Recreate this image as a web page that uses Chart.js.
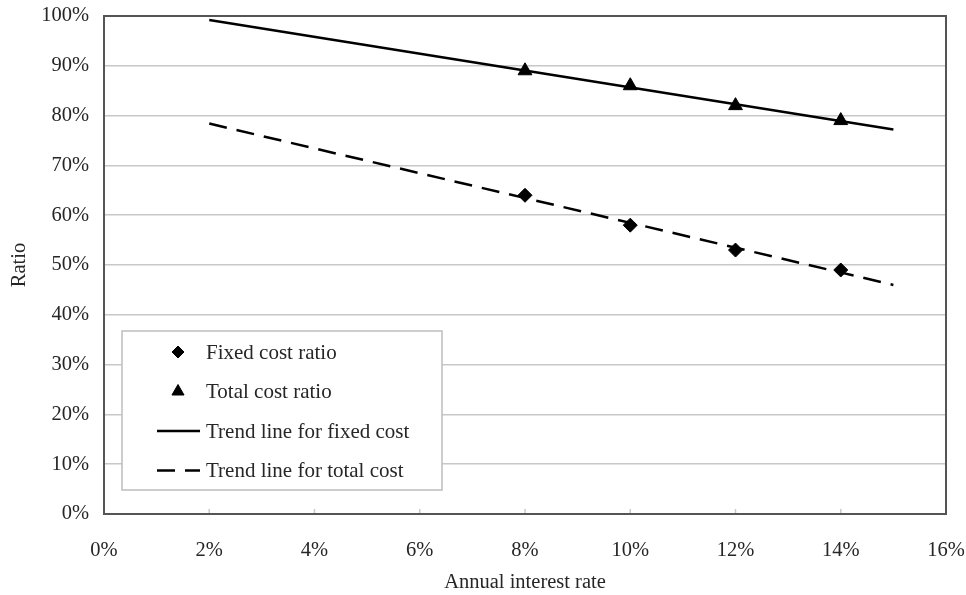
<!DOCTYPE html>
<html lang="en">
<head>
    <meta charset="UTF-8">
    <title>Ratio vs annual interest rate</title>
    <script src="https://cdn.jsdelivr.net/npm/chart.js"></script>
    <style>
        html, body { margin: 0; padding: 0; background: #fff; }
    </style>
</head>
<body>
    <canvas id="ratioChart" width="966" height="595"></canvas>

    <script>
        // values
        var rates = [8, 10, 12, 14];
        var fixedCost = [64, 58, 53, 49];
        var totalCost = [89, 86, 82, 79];

        // trend lines: start and end points as drawn
        var trendRates = [2, 15];
        var trendFixed = [99.2, 77.2];
        var trendTotal = [78.4, 46];

        var seriesLabels = ['Fixed cost ratio', 'Total cost ratio', 'Trend line for fixed cost', 'Trend line for total cost'];

        function toPoints(xs, ys) {
            return xs.map(function (x, i) { return { x: x, y: ys[i] }; });
        }

        var FONT = 'Liberation Serif, Times New Roman, serif';
        var TEXT = '#262626';

        // frame round the plot area plus the small inward x ticks
        var frame = {
            id: 'frame',
            beforeDatasetsDraw: function (chart) {
                var ctx = chart.ctx, a = chart.chartArea;
                ctx.save();
                ctx.strokeStyle = '#c8c8c8';
                ctx.lineWidth = 1.5;
                chart.scales.x.ticks.forEach(function (t) {
                    var px = chart.scales.x.getPixelForValue(t.value);
                    ctx.beginPath();
                    ctx.moveTo(px, a.bottom);
                    ctx.lineTo(px, a.bottom - 5);
                    ctx.stroke();
                });
                ctx.strokeStyle = '#555';
                ctx.lineWidth = 2;
                ctx.strokeRect(a.left, a.top, a.right - a.left, a.bottom - a.top);
                ctx.restore();
            }
        };

        // legend box drawn inside the plot, lower left
        var legendBox = {
            id: 'legendBox',
            afterDatasetsDraw: function (chart) {
                var ctx = chart.ctx, a = chart.chartArea;
                var bx = a.left + 18, by = a.bottom - 183, bw = 320, bh = 159;
                ctx.save();
                ctx.fillStyle = '#fff';
                ctx.fillRect(bx, by, bw, bh);
                ctx.strokeStyle = '#bdbdbd';
                ctx.lineWidth = 1.5;
                ctx.strokeRect(bx, by, bw, bh);

                ctx.font = '21px ' + FONT;
                ctx.textBaseline = 'middle';
                chart.data.datasets.forEach(function (ds, i) {
                    var cy = by + 21 + i * 39.5;
                    var sx = bx + 56;
                    ctx.fillStyle = '#000';
                    ctx.strokeStyle = '#000';
                    if (ds.showLine) {
                        ctx.lineWidth = ds.borderWidth;
                        ctx.setLineDash(ds.borderDash || []);
                        ctx.beginPath();
                        ctx.moveTo(sx - 21, cy);
                        ctx.lineTo(sx + 22, cy);
                        ctx.stroke();
                        ctx.setLineDash([]);
                    } else {
                        ctx.lineWidth = 1;
                        Chart.helpers.drawPoint(ctx, {
                            pointStyle: ds.pointStyle,
                            radius: ds.pointRadius - 1,
                            rotation: 0,
                            borderWidth: 1
                        }, sx, cy);
                    }
                    ctx.fillStyle = TEXT;
                    ctx.fillText(ds.label, bx + 84, cy + 1);
                });
                ctx.restore();
            }
        };

        var ctx = document.getElementById('ratioChart').getContext('2d');
        new Chart(ctx, {
            type: 'scatter',
            data: {
                datasets: [{
                    label: seriesLabels[0],
                    data: toPoints(rates, fixedCost),
                    pointStyle: 'rectRot',
                    pointRadius: 7,
                    backgroundColor: '#000',
                    borderColor: '#000',
                    showLine: false,
                    order: 1
                }, {
                    label: seriesLabels[1],
                    data: toPoints(rates, totalCost),
                    pointStyle: 'triangle',
                    pointRadius: 8,
                    backgroundColor: '#000',
                    borderColor: '#000',
                    showLine: false,
                    order: 1
                }, {
                    label: seriesLabels[2],
                    data: toPoints(trendRates, trendFixed),
                    showLine: true,
                    pointRadius: 0,
                    borderColor: '#000',
                    borderWidth: 2.5,
                    order: 2
                }, {
                    label: seriesLabels[3],
                    data: toPoints(trendRates, trendTotal),
                    showLine: true,
                    pointRadius: 0,
                    borderColor: '#000',
                    borderWidth: 2.5,
                    borderDash: [18, 10],
                    order: 2
                }]
            },
            options: {
                responsive: false,
                animation: false,
                devicePixelRatio: 1,
                layout: { padding: { top: 16, right: 20, left: 0, bottom: 0 } },
                plugins: {
                    legend: { display: false },
                    tooltip: { enabled: false }
                },
                scales: {
                    x: {
                        type: 'linear',
                        min: 0,
                        max: 16,
                        ticks: {
                            stepSize: 2,
                            padding: 24,
                            color: TEXT,
                            font: { family: FONT, size: 20.5 },
                            callback: function (v) { return v + '%'; }
                        },
                        grid: { display: false, drawTicks: false },
                        border: { display: false },
                        title: {
                            display: true,
                            text: 'Annual interest rate',
                            color: TEXT,
                            font: { family: FONT, size: 20.5 },
                            padding: { top: 0, bottom: 0 }
                        },
                        afterFit: function (s) {
                            s.height = 81;
                            s.paddingLeft = 0;
                            s.paddingRight = 0;
                        }
                    },
                    y: {
                        min: 0,
                        max: 100,
                        ticks: {
                            stepSize: 10,
                            padding: 15,
                            color: TEXT,
                            font: { family: FONT, size: 20.5 },
                            callback: function (v) { return v + '%'; }
                        },
                        grid: { color: '#c8c8c8', lineWidth: 1.5, drawTicks: false },
                        border: { display: false },
                        title: {
                            display: true,
                            text: 'Ratio',
                            color: TEXT,
                            font: { family: FONT, size: 20.5 },
                            padding: { top: 7, bottom: 0 }
                        },
                        afterFit: function (s) {
                            s.width = 104;
                            s.paddingTop = 0;
                            s.paddingBottom = 0;
                        }
                    }
                }
            },
            plugins: [frame, legendBox]
        });
    </script>
</body>
</html>
